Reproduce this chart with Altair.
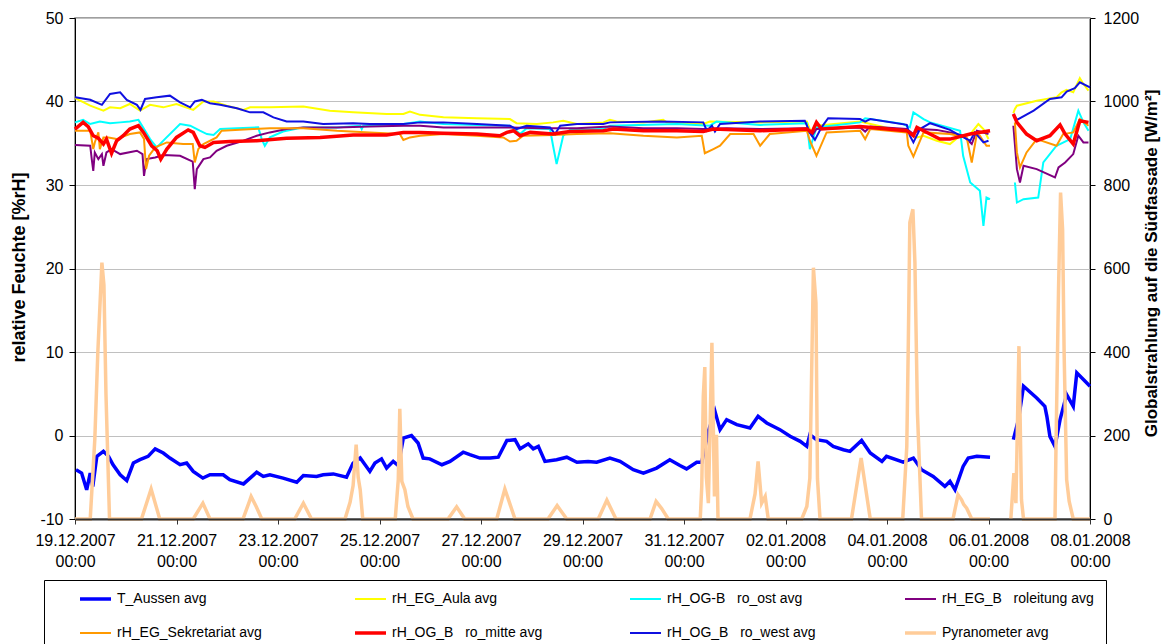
import json
import altair as alt
import pandas as pd

NB = "\u00a0\u00a0\u00a0"
SERIES = ["T_Aussen avg", "rH_EG_Aula avg", "rH_OG-B" + NB + "ro_ost avg", "rH_EG_B" + NB + "roleitung avg",
          "rH_EG_Sekretariat avg", "rH_OG_B" + NB + "ro_mitte avg", "rH_OG_B" + NB + "ro_west avg", "Pyranometer avg"]
COLORS = ["#0000FF", "#FFFF00", "#00FFFF", "#800080", "#FF9900", "#FF0000", "#1010E0", "#FFCC99"]
WIDTHS = [3.5, 2, 2, 2, 2, 3.5, 2, 3.5]
X_TICKS = [0, 2, 4, 6, 8, 10, 12, 14, 16, 18, 20]
X_LABELS = ["19.12.2007", "21.12.2007", "23.12.2007", "25.12.2007", "27.12.2007", "29.12.2007",
            "31.12.2007", "02.01.2008", "04.01.2008", "06.01.2008", "08.01.2008"]
Y_LEFT_TICKS = [-10, 0, 10, 20, 30, 40, 50]
Y_RIGHT_TICKS = [0, 200, 400, 600, 800, 1000, 1200]

# (day since 19.12.2007 00:00, value)
T_AUSSEN = [(0.02,-4.1),(0.13,-4.5),(0.23,-6.5),(0.30,-4.5),(0.35,-6.1),(0.43,-2.5),(0.56,-1.9),(0.66,-2.5),
    (0.75,-3.5),(0.89,-4.7),(1.02,-5.4),(1.15,-3.3),(1.28,-2.9),(1.44,-2.5),(1.58,-1.6),(1.74,-2.1),(1.87,-2.7),
    (2.07,-3.5),(2.20,-3.3),(2.33,-4.3),(2.52,-5.1),(2.66,-4.7),(2.92,-4.7),(3.05,-5.3),(3.32,-5.8),(3.58,-4.4),
    (3.71,-4.9),(3.84,-4.7),(4.10,-5.1),(4.37,-5.6),(4.50,-4.8),(4.76,-4.9),(4.89,-4.7),(5.09,-4.6),(5.35,-5.0),
    (5.48,-3.3),(5.62,-2.7),(5.81,-4.3),(5.91,-3.3),(6.04,-2.8),(6.14,-3.9),(6.27,-3.1),(6.37,-3.6),(6.47,-0.3),
    (6.63,0.0),(6.76,-0.9),(6.86,-2.7),(6.99,-2.8),(7.23,-3.5),(7.39,-3.1),(7.65,-2.0),(7.78,-2.3),(7.98,-2.7),
    (8.18,-2.7),(8.34,-2.6),(8.51,-0.6),(8.67,-0.5),(8.77,-1.6),(8.93,-1.0),(9.03,-1.6),(9.13,-1.3),(9.26,-3.1),
    (9.49,-2.9),(9.69,-2.6),(9.89,-3.2),(10.11,-3.1),(10.28,-3.2),(10.54,-2.7),(10.74,-3.1),(11.00,-4.1),
    (11.20,-4.5),(11.46,-3.9),(11.72,-2.9),(11.92,-3.6),(12.05,-4.0),(12.25,-3.2),(12.35,-3.2),(12.48,0.5),
    (12.61,2.9),(12.71,0.7),(12.84,1.9),(13.04,1.3),(13.30,0.9),(13.46,2.3),(13.63,1.5),(13.89,0.7),(14.09,-0.1),
    (14.29,-0.7),(14.42,-1.3),(14.48,0.1),(14.61,-0.5),(14.81,-0.7),(14.94,-1.3),(15.14,-1.7),(15.27,-1.9),
    (15.50,-0.6),(15.67,-2.1),(15.90,-3.1),(15.99,-2.5),(16.32,-3.2),(16.52,-2.7),(16.68,-4.1),(16.91,-4.9),
    (17.14,-6.1),(17.24,-5.5),(17.34,-6.5),(17.50,-3.7),(17.60,-2.7),(17.77,-2.5),(18.03,-2.6),
    (18.49,-0.5),(18.59,1.9),(18.69,5.9),(18.95,4.5),(19.11,3.5),(19.15,2.3),(19.21,-0.1),(19.31,-1.3),
    (19.41,1.9),(19.54,4.9),(19.67,3.5),(19.74,7.5),(19.87,6.7),(20.00,5.9)]

RH_AULA = [(0.0,40.4),(0.30,39.5),(0.56,38.9),(0.69,39.3),(0.89,39.2),(1.08,39.7),(1.28,38.9),(1.48,39.6),
    (1.74,39.3),(2.00,39.7),(2.33,39.0),(2.53,40.0),(2.73,40.0),(2.99,39.5),(3.32,39.0),(3.45,39.3),(3.84,39.3),
    (4.50,39.4),(5.02,38.9),(5.48,38.7),(6.14,38.5),(6.47,38.5),(6.60,38.8),(6.80,38.4),(7.26,38.1),(7.92,38.0),
    (8.57,37.9),(8.70,37.4),(9.10,37.3),(9.42,37.5),(9.62,37.7),(9.89,37.3),(10.41,37.5),(10.54,37.8),
    (10.67,37.6),(11.20,37.5),(11.59,37.8),(11.66,37.5),(12.38,37.3),(12.51,37.6),(13.50,37.5),(14.42,37.6),
    (14.52,36.1),(14.61,37.1),(15.47,37.6),(16.39,36.3),(16.59,35.7),(16.72,35.9),(16.98,35.3),(17.24,34.9),
    (17.44,35.9),(17.64,36.1),(17.80,37.3),(17.90,36.7),(18.00,35.5),
    (18.49,38.6),(18.52,39.1),(18.56,39.5),(18.95,40.1),(19.34,40.5),(19.44,41.1),(19.54,41.4),(19.67,41.1),
    (19.80,42.8),(19.87,42.1),(19.97,41.3)]

RH_OST = [(0.0,37.5),(0.16,37.8),(0.30,37.3),(0.49,37.6),(0.69,37.4),(0.89,37.5),(1.08,37.6),(1.25,37.8),
    (1.31,37.2),(1.48,35.5),(1.61,34.5),(1.77,35.5),(2.07,37.3),(2.27,37.1),(2.46,36.5),(2.60,36.1),(2.73,36.0),
    (2.86,36.7),(3.19,36.8),(3.61,36.9),(3.68,35.5),(3.74,34.7),(3.84,35.7),(4.10,36.4),(4.50,36.9),(5.16,36.9),
    (5.62,37.1),(5.65,36.7),(5.68,37.1),(6.47,37.3),(6.80,37.6),(7.26,37.3),(7.92,37.2),(8.57,37.1),(8.70,36.5),
    (8.77,36.1),(8.90,36.8),(9.36,36.7),(9.42,34.7),(9.49,32.5),(9.56,34.3),(9.62,35.9),(9.75,36.6),(10.41,36.7),
    (10.54,37.1),(11.86,37.3),(12.51,37.1),(12.64,37.6),(13.50,37.2),(14.42,37.4),(14.48,34.3),(14.61,36.9),
    (15.47,37.5),(15.57,38.0),(16.32,37.3),(16.45,36.9),(16.52,38.7),(16.72,37.9),(16.85,37.5),(17.44,36.5),
    (17.50,33.5),(17.64,30.3),(17.83,29.3),(17.90,25.1),(17.96,28.5),(18.03,28.3),
    (18.52,30.3),(18.56,27.9),(18.69,28.3),(18.98,28.5),(19.08,32.7),(19.34,34.7),(19.61,35.5),(19.77,38.9),
    (19.87,37.5),(19.97,36.5)]

RH_ROLEITUNG = [(0.0,34.8),(0.30,34.7),(0.33,33.1),(0.36,31.7),(0.39,33.9),(0.46,33.1),(0.53,33.7),(0.56,32.3),
    (0.62,33.9),(0.72,34.3),(0.89,33.7),(1.22,34.1),(1.33,33.7),(1.36,31.1),(1.41,33.1),(1.58,33.3),(1.74,33.6),
    (2.07,33.5),(2.32,32.8),(2.36,29.5),(2.40,31.9),(2.53,33.1),(2.66,33.3),(2.79,34.1),(2.99,34.7),(3.32,35.3),
    (3.58,35.9),(3.84,36.3),(4.17,36.7),(4.50,36.9),(5.16,36.9),(5.81,37.0),(6.47,37.1),(6.80,37.1),(7.26,36.9),
    (7.92,36.9),(8.57,36.9),(9.23,36.8),(9.89,36.8),(10.54,37.0),(11.20,36.8),(11.86,36.8),(12.38,36.7),
    (12.84,36.8),(13.50,36.7),(14.42,36.8),(14.52,35.9),(14.61,36.7),(15.47,36.9),(15.57,36.4),(15.67,37.0),
    (16.39,36.7),(16.52,36.1),(16.65,36.7),(16.98,36.6),(17.24,36.3),(17.50,35.9),(17.67,34.9),(17.77,36.5),
    (18.00,36.1),
    (18.49,37.1),(18.56,31.9),(18.62,30.3),(18.69,32.3),(18.95,31.9),(19.31,30.9),(19.38,32.1),(19.51,32.7),
    (19.67,33.7),(19.77,35.9),(19.87,35.1),(19.97,35.1)]

RH_SEKRETARIAT = [(0.0,36.5),(0.30,36.5),(0.36,34.3),(0.39,35.1),(0.46,36.3),(0.49,34.3),(0.56,35.7),(0.66,35.7),
    (0.82,35.5),(1.08,36.1),(1.28,36.3),(1.36,35.5),(1.40,31.9),(1.46,33.5),(1.58,34.5),(1.81,35.1),(2.13,34.9),
    (2.32,34.9),(2.36,32.7),(2.43,34.3),(2.53,34.9),(2.79,35.7),(2.89,36.5),(3.51,36.7),(3.84,36.8),(4.50,36.8),
    (5.16,36.5),(5.81,36.3),(6.40,36.1),(6.47,35.4),(6.60,35.7),(6.80,35.9),(7.26,36.1),(7.92,35.9),(8.44,35.7),
    (8.57,35.2),(8.70,35.3),(8.83,35.9),(9.42,36.0),(9.89,36.1),(10.54,36.2),(11.20,35.9),(11.86,35.7),
    (12.35,35.9),(12.41,33.8),(12.58,34.3),(12.71,34.7),(12.91,36.1),(13.37,36.1),(13.50,34.7),(13.69,36.1),
    (14.42,36.5),(14.48,35.3),(14.61,33.5),(14.81,36.3),(15.47,36.5),(15.57,35.5),(15.67,36.7),(16.39,36.3),
    (16.42,34.7),(16.52,33.4),(16.72,36.3),(17.24,36.1),(17.57,35.7),(17.67,32.7),(17.77,36.1),(17.83,35.9),
    (17.96,34.7),(18.03,34.7),
    (18.52,37.5),(18.56,33.9),(18.62,32.1),(18.75,33.9),(18.95,35.5),(19.34,34.7),(19.47,36.1),(19.67,36.3),
    (19.80,37.9),(19.97,37.1)]

RH_MITTE = [(0.0,36.7),(0.16,37.5),(0.26,37.0),(0.36,35.9),(0.46,35.6),(0.56,34.9),(0.62,35.5),(0.72,33.8),
    (0.82,35.3),(0.95,35.9),(1.08,36.7),(1.25,37.1),(1.35,36.3),(1.51,34.7),(1.62,34.1),(1.69,33.1),(1.81,34.3),
    (2.00,35.7),(2.23,36.6),(2.33,36.3),(2.46,34.7),(2.56,34.5),(2.73,35.1),(3.05,35.2),(3.58,35.3),(4.17,35.6),
    (4.83,35.7),(5.48,36.0),(6.14,36.0),(6.47,36.3),(6.80,36.3),(7.26,36.2),(7.92,36.1),(8.37,35.9),(8.51,36.3),
    (8.64,36.5),(8.77,35.9),(8.97,36.3),(9.42,36.1),(9.75,36.4),(10.41,36.5),(10.61,36.7),(11.20,36.5),
    (11.86,36.5),(12.38,36.4),(12.58,36.7),(13.50,36.5),(14.42,36.7),(14.52,36.3),(14.61,37.5),(14.71,36.7),
    (15.47,37.0),(16.39,36.5),(16.52,35.9),(16.59,36.9),(16.72,36.5),(17.04,35.5),(17.24,35.5),(17.64,36.1),
    (18.03,36.5),
    (18.49,38.5),(18.56,37.5),(18.75,36.1),(18.95,35.3),(19.21,35.9),(19.41,37.2),(19.51,36.1),(19.67,34.9),
    (19.80,37.7),(19.97,37.5)]

RH_WEST = [(0.0,40.5),(0.30,40.2),(0.53,39.6),(0.69,40.9),(0.89,41.1),(1.02,40.2),(1.22,39.6),(1.29,39.0),
    (1.38,40.3),(1.61,40.5),(1.87,40.7),(2.07,39.9),(2.27,39.3),(2.36,40.0),(2.50,40.2),(2.66,39.8),(2.86,39.6),
    (3.19,39.2),(3.45,38.7),(3.71,38.7),(3.91,38.1),(4.17,37.6),(4.50,37.6),(4.89,37.3),(5.48,37.4),(5.81,37.3),
    (6.47,37.3),(6.80,37.5),(7.26,37.5),(7.92,37.3),(8.57,37.1),(8.70,36.7),(8.90,37.1),(9.36,36.9),(9.46,36.1),
    (9.56,37.1),(9.89,37.3),(10.41,37.3),(10.54,37.5),(11.53,37.6),(12.38,37.5),(12.45,36.5),(12.55,37.1),
    (12.61,36.4),(12.71,37.3),(13.50,37.6),(14.38,37.7),(14.48,36.3),(14.58,35.4),(14.71,36.9),(14.84,38.0),
    (15.47,37.9),(15.57,37.6),(15.67,37.9),(16.39,37.2),(16.45,35.9),(16.52,35.1),(16.65,36.7),(16.85,37.4),
    (17.24,36.6),(17.44,35.9),(17.64,35.3),(17.73,36.3),(17.90,35.1),(18.00,35.3),
    (18.49,38.5),(18.56,37.8),(18.89,38.9),(19.21,40.3),(19.44,40.5),(19.54,41.2),(19.70,41.6),(19.80,42.3),
    (20.00,41.7)]

PYRANOMETER = [(0.0,0),(0.30,0),(0.39,190),(0.45,400),(0.53,614),(0.57,560),(0.61,300),(0.68,0),
    (1.31,0),(1.50,72),(1.67,0),(2.33,0),(2.52,38),(2.66,0),(3.31,0),(3.43,40),(3.47,54),(3.57,30),(3.68,0),
    (4.33,0),(4.50,38),(4.66,0),(5.32,0),(5.42,40),(5.48,80),(5.54,178),(5.58,100),(5.62,70),(5.67,0),
    (6.31,0),(6.37,94),(6.40,264),(6.44,90),(6.50,70),(6.56,30),(6.66,0),(7.35,0),(7.52,29),(7.68,0),
    (8.31,0),(8.47,72),(8.67,0),(9.32,0),(9.50,32),(9.69,0),(10.31,0),(10.48,45),(10.66,0),
    (11.33,0),(11.45,42),(11.56,25),(11.69,0),(12.32,0),(12.35,78),(12.38,294),(12.41,364),(12.44,100),
    (12.48,38),(12.51,200),(12.55,422),(12.60,54),(12.64,202),(12.67,0),(13.30,0),(13.40,60),(13.46,138),
    (13.53,38),(13.60,54),(13.66,0),(14.32,0),(14.42,30),(14.48,98),(14.55,602),(14.60,518),(14.63,96),
    (14.68,0),(15.30,0),(15.49,146),(15.67,0),(16.31,0),(16.39,174),(16.42,422),(16.45,710),(16.51,742),
    (16.55,614),(16.60,254),(16.68,0),(17.30,0),(17.40,58),(17.47,46),(17.51,35),(17.57,26),(17.67,0),
    (18.03,0),
    (18.44,0),(18.50,110),(18.54,38),(18.60,414),(18.65,46),(18.69,0),(19.31,0),(19.33,174),(19.38,550),
    (19.42,782),(19.46,694),(19.49,398),(19.54,94),(19.59,42),(19.67,0),(20.00,0)]

GAP_DAY = 18.2
FONT = "Liberation Sans"


def frame(pairs):
    rows = []
    for name, pts in pairs:
        for d, v in pts:
            rows.append({"series": name, "day": d, "value": v, "seg": name + ("_b" if d > GAP_DAY else "_a")})
    return pd.DataFrame(rows)


thin_df = frame([(SERIES[1], RH_AULA), (SERIES[2], RH_OST), (SERIES[3], RH_ROLEITUNG),
                 (SERIES[4], RH_SEKRETARIAT), (SERIES[6], RH_WEST)])
thick_df = frame([(SERIES[0], T_AUSSEN), (SERIES[5], RH_MITTE)])
pyr_df = frame([(SERIES[7], PYRANOMETER)])

label_expr = "[" + json.dumps(X_LABELS) + "[round(datum.value / 2)], '00:00']"

x_enc = alt.X("day:Q", scale=alt.Scale(domain=[0, 20], nice=False, zero=False),
              axis=alt.Axis(values=X_TICKS, labelExpr=label_expr, grid=False, title=None,
                            labelOverlap=False, labelBound=False, labelFlush=False,
                            domainColor="#333333", domainWidth=2, tickColor="#333333", tickSize=5,
                            labelFont=FONT, labelFontSize=16, labelColor="black", labelPadding=8,
                            labelLineHeight=21, zindex=1))

legend = alt.Legend(orient="none", legendX=-31, legendY=562, columns=4,
                    direction="horizontal", title=None,
                    symbolType="M3.4,0H9.6", symbolSize=100,
                    labelOffset=47, labelFont=FONT, labelFontSize=14,
                    labelColor="black", labelLimit=400, gridAlign="all",
                    columnPadding=62, rowPadding=20, padding=12,
                    strokeColor="black")

color_enc = alt.Color("series:N", scale=alt.Scale(domain=SERIES, range=COLORS), legend=legend)
width_enc = alt.StrokeWidth("series:N", scale=alt.Scale(type="ordinal", domain=SERIES, range=WIDTHS),
                            legend=legend)

y_left_scale = alt.Scale(domain=[-10, 50], nice=False, zero=False)

thin = alt.Chart(thin_df).mark_line().encode(
    x=x_enc,
    y=alt.Y("value:Q", scale=y_left_scale,
            axis=alt.Axis(values=Y_LEFT_TICKS, grid=True, gridColor="#c0c0c0", gridWidth=1,
                          labelExpr="'' + datum.value", labelOverlap=False,
                          domainColor="black", tickColor="black", tickSize=6, labelPadding=6,
                          labelFont=FONT, labelFontSize=16, labelColor="black",
                          title="relative Feuchte [%rH]", titleFont=FONT, titleFontSize=18,
                          titleFontWeight="bold", titleColor="black", titleAngle=270,
                          titleX=-56, titleY=249, titleAlign="center", titleBaseline="middle")),
    color=color_enc,
    strokeWidth=width_enc,
    detail="seg:N",
)

thick = alt.Chart(thick_df).mark_line().encode(
    x=x_enc,
    y=alt.Y("value:Q", scale=y_left_scale, axis=None),
    color=color_enc,
    strokeWidth=width_enc,
    detail="seg:N",
)

pyr = alt.Chart(pyr_df).mark_line().encode(
    x=x_enc,
    y=alt.Y("value:Q", scale=alt.Scale(domain=[0, 1200], nice=False, zero=False),
            axis=alt.Axis(orient="right", values=Y_RIGHT_TICKS, grid=False,
                          labelExpr="'' + datum.value", labelOverlap=False,
                          domainColor="black", tickColor="black", tickSize=5, labelPadding=8,
                          labelFont=FONT, labelFontSize=16, labelColor="black",
                          title="Globalstrahlung auf die Südfassade [W/m²]", titleFont=FONT,
                          titleFontSize=17, titleFontWeight="bold", titleColor="black",
                          titleAngle=270, titleX=61, titleY=245, titleAlign="center",
                          titleBaseline="middle")),
    color=color_enc,
    strokeWidth=width_enc,
    detail="seg:N",
)

chart = alt.layer(thin, thick, pyr).resolve_scale(y="independent").properties(
    width=1015, height=501,
    padding={"left": 67, "top": 10, "right": 72, "bottom": 125},
    autosize=alt.AutoSizeParams(type="none"),
    background="white",
).configure_view(stroke="#808080", strokeWidth=1.5)

chart.save("out.html", embed_options={"renderer": "svg", "actions": False})
